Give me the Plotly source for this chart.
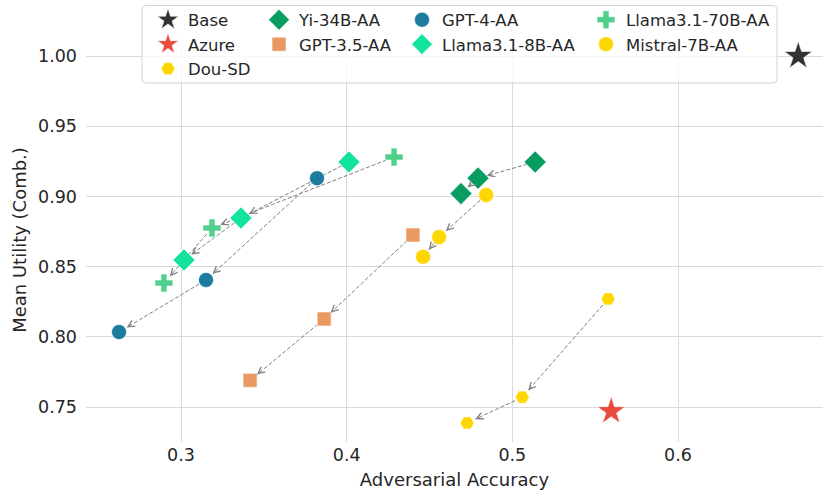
import plotly.graph_objects as go

# ---- data -------------------------------------------------------------
base_x, base_y = [0.6726], [1.000]
azure_x, azure_y = [0.5597], [0.747]
dou_x, dou_y = [0.5578, 0.5060, 0.4727], [0.827, 0.757, 0.7386]
yi_x, yi_y = [0.5138, 0.4793, 0.4690], [0.9245, 0.913, 0.902]
gpt35_x, gpt35_y = [0.4400, 0.3864, 0.3417], [0.8725, 0.8127, 0.769]
gpt4_x, gpt4_y = [0.3821, 0.3151, 0.2626], [0.913, 0.8405, 0.8034]
l8_x, l8_y = [0.4014, 0.3362, 0.3018], [0.9245, 0.8846, 0.8547]
l70_x, l70_y = [0.4286, 0.3187, 0.2897], [0.928, 0.8775, 0.8383]
mis_x, mis_y = [0.4842, 0.4558, 0.4461], [0.901, 0.871, 0.857]

x_ticks = [0.3, 0.4, 0.5, 0.6]
y_ticks = [0.75, 0.80, 0.85, 0.90, 0.95, 1.00]

# ---- layout geometry --------------------------------------------------
W, H = 823, 496
ML, MR, MT, MB = 86, 0, 38, 54
PW, PH = W - ML - MR, H - MT - MB
XR = [0.24266, 0.68752]
YR = [0.72507, 1.01282]
SX = PW / (XR[1] - XR[0])  # px per x unit
SY = PH / (YR[1] - YR[0])  # px per y unit

FONT = "DejaVu Sans"
TXT = "#262626"
ARROW = "#808080"

# (name, x, y, symbol, colour, size, legend)
series = [
    ("Base", base_x, base_y, "star", "#333333", 21, "legend"),
    ("Azure", azure_x, azure_y, "star", "#e74c3c", 21, "legend"),
    ("Dou-SD", dou_x, dou_y, "hexagon2", "#ffd700", 14, "legend"),
    ("Yi-34B-AA", yi_x, yi_y, "diamond", "#079d61", 17, "legend2"),
    ("GPT-3.5-AA", gpt35_x, gpt35_y, "square", "#e99a62", 14, "legend2"),
    ("GPT-4-AA", gpt4_x, gpt4_y, "circle", "#1b7c9e", 15, "legend3"),
    ("Llama3.1-8B-AA", l8_x, l8_y, "diamond", "#14e39c", 17, "legend3"),
    ("Llama3.1-70B-AA", l70_x, l70_y, "cross", "#4fd18d", 15, "legend4"),
    ("Mistral-7B-AA", mis_x, mis_y, "circle", "#ffd700", 15, "legend4"),
]

fig = go.Figure()

# dashed connectors between consecutive runs of each method
annotations = []
SHRINK_A, SHRINK_B = 8.0, 9.0
for name, xs, ys, sym, col, size, leg in series:
    for i in range(len(xs) - 1):
        x0, y0, x1, y1 = xs[i], ys[i], xs[i + 1], ys[i + 1]
        dxp, dyp = (x1 - x0) * SX, (y1 - y0) * SY
        L = (dxp ** 2 + dyp ** 2) ** 0.5
        ux, uy = dxp / L, dyp / L
        sx, sy = x0 + ux * SHRINK_A / SX, y0 + uy * SHRINK_A / SY
        ex, ey = x1 - ux * SHRINK_B / SX, y1 - uy * SHRINK_B / SY
        fig.add_trace(go.Scatter(
            x=[sx, ex], y=[sy, ey], mode="lines",
            line=dict(color=ARROW, width=1, dash="4px,2px"),
            showlegend=False, hoverinfo="skip", cliponaxis=False,
        ))
        # short arrow for the open head
        tx, ty = ex - ux * 6 / SX, ey - uy * 6 / SY
        annotations.append(dict(
            x=ex, y=ey, ax=tx, ay=ty, xref="x", yref="y",
            axref="x", ayref="y", text="", showarrow=True,
            arrowhead=5, arrowsize=1.3, arrowwidth=1, arrowcolor=ARROW,
        ))

for name, xs, ys, sym, col, size, leg in series:
    fig.add_trace(go.Scatter(
        x=xs, y=ys, mode="markers", name=name, legend=leg,
        marker=dict(symbol=sym, color=col, size=size,
                    line=dict(color="white", width=0.6)),
        cliponaxis=False,
    ))

def px2paper_x(px):
    return (px - ML) / PW

def px2paper_y(py):
    return (H - MB - py) / PH

legend_common = dict(
    orientation="v", xanchor="left", yanchor="top",
    bgcolor="rgba(0,0,0,0)", borderwidth=0,
    font=dict(family=FONT, size=16.5, color=TXT),
    itemsizing="trace", itemwidth=30, tracegroupgap=0,
)
leg_y = px2paper_y(2.5)
fig.update_layout(
    legend=dict(x=px2paper_x(148), y=leg_y, **legend_common),
    legend2=dict(x=px2paper_x(259), y=leg_y, **legend_common),
    legend3=dict(x=px2paper_x(402), y=leg_y, **legend_common),
    legend4=dict(x=px2paper_x(586), y=leg_y, **legend_common),
)

# frame behind the legend entries
bx0, bx1 = px2paper_x(142), px2paper_x(777)
by0, by1 = px2paper_y(83), px2paper_y(5.5)
rx, ry = 4 / PW, 4 / PH
box_path = (
    f"M {bx0 + rx},{by1} L {bx1 - rx},{by1} Q {bx1},{by1} {bx1},{by1 - ry} "
    f"L {bx1},{by0 + ry} Q {bx1},{by0} {bx1 - rx},{by0} "
    f"L {bx0 + rx},{by0} Q {bx0},{by0} {bx0},{by0 + ry} "
    f"L {bx0},{by1 - ry} Q {bx0},{by1} {bx0 + rx},{by1} Z"
)
fig.add_shape(type="path", path=box_path, xref="paper", yref="paper",
              fillcolor="rgba(255,255,255,0.8)",
              line=dict(color="#d4d4d4", width=1), layer="above")

fig.update_layout(
    width=W, height=H,
    margin=dict(l=ML, r=MR, t=MT, b=MB, pad=0),
    paper_bgcolor="white", plot_bgcolor="white",
    font=dict(family=FONT, color=TXT),
    annotations=annotations,
    xaxis=dict(
        range=XR, tickvals=x_ticks, ticktext=[f"{v:.1f}" for v in x_ticks],
        showgrid=True, gridcolor="#d9d9d9", gridwidth=1, zeroline=False,
        showline=False, ticks="", tickfont=dict(size=17.5, color=TXT),
        title=dict(text="Adversarial Accuracy", font=dict(size=18, color=TXT),
                   standoff=9),
    ),
    yaxis=dict(
        range=YR, tickvals=y_ticks, ticktext=[f"{v:.2f}" for v in y_ticks],
        showgrid=True, gridcolor="#d9d9d9", gridwidth=1, zeroline=False,
        showline=False, ticks="", tickfont=dict(size=17.5, color=TXT),
        ticklabelstandoff=8,
        title=dict(text="Mean Utility (Comb.)", font=dict(size=18, color=TXT),
                   standoff=6),
    ),
)

fig.write_html("out.html")
